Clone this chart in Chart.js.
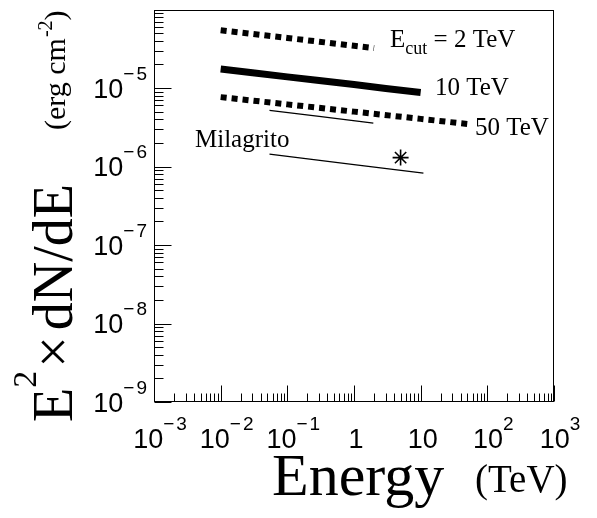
<!DOCTYPE html>
<html><head><meta charset="utf-8">
<script src="https://cdn.jsdelivr.net/npm/chart.js@4"></script>
<style>html,body{margin:0;padding:0;background:#fff;}canvas{display:block;}</style>
</head><body>
<canvas id="c" width="597" height="518" style="width:597px;height:518px"></canvas>
<script>
// ---- data (energy in TeV, E^2 dN/dE in erg cm^-2) ----
const energyEcut2  = [0.01, 0.03, 0.1, 0.3, 1, 2];
const fluxEcut2    = [5.46e-5, 4.90e-5, 4.35e-5, 3.90e-5, 3.46e-5, 3.23e-5];
const energyEcut10 = [0.01, 0.03, 0.1, 0.3, 1, 3, 10];
const fluxEcut10   = [1.75e-5, 1.57e-5, 1.39e-5, 1.25e-5, 1.11e-5, 9.9e-6, 8.8e-6];
const energyEcut50 = [0.01, 0.1, 1, 10, 50];
const fluxEcut50   = [7.67e-6, 6.20e-6, 5.01e-6, 4.05e-6, 3.49e-6];
const energyUpper  = [0.054, 0.3, 1.95];
const fluxUpper    = [5.19e-6, 4.35e-6, 3.57e-6];
const energyMilagrito = [0.054, 1, 11];
const fluxMilagrito   = [1.44e-6, 1.06e-6, 8.24e-7];
const energyStar = [5];
const fluxStar   = [1.3e-6];
const xDecades = [-3, -2, -1, 0, 1, 2, 3];
const yDecades = [-9, -8, -7, -6, -5];
const curveLabels = ['E', '10 TeV', '50 TeV', 'Milagrito'];
const curveLabelE = [3.47, 16.4, 65.3, 0.00412];
const curveLabelF = [3.37e-5, 8.13e-6, 2.56e-6, 1.76e-6];

const pts = (xs, ys) => xs.map((v, i) => ({x: v, y: ys[i]}));

const SANS = '"Liberation Sans", Arial, sans-serif';
const SERIF = '"Liberation Serif", "Times New Roman", serif';

function powParts(d) {
  if (d === 0) return {base: '1', sup: ''};
  if (d === 1) return {base: '10', sup: ''};
  return {base: '10', sup: d < 0 ? String(Math.abs(d)) : String(d), neg: d < 0};
}
function measurePow(ctx, p) {
  ctx.font = '27px ' + SANS;
  const wb = ctx.measureText(p.base).width;
  let ws = 0;
  if (p.sup) {
    ctx.font = '19px ' + SANS;
    ws = ctx.measureText(p.sup).width + (p.neg ? ctx.measureText('\u2212').width + 2 : 0);
  }
  return {wb, ws, w: wb + ws};
}
function drawPow(ctx, p, left, baseline) {
  ctx.font = '27px ' + SANS;
  ctx.fillText(p.base, left, baseline);
  let x = left + ctx.measureText(p.base).width;
  if (p.sup) {
    ctx.font = '19px ' + SANS;
    const sb = baseline - 18;
    if (p.neg) { ctx.fillText('\u2212', x, sb); x += ctx.measureText('\u2212').width + 2; }
    ctx.fillText(p.sup, x, sb);
  }
}

const axesPlugin = {
  id: 'rootAxes',
  afterDraw(chart) {
    const {ctx, chartArea: a, scales: {x, y}} = chart;
    ctx.save();
    ctx.strokeStyle = '#000';
    ctx.fillStyle = '#000';
    ctx.lineWidth = 1;
    const L = Math.round(a.left) + 0.5, R = Math.round(a.right) - 0.5;
    const T = Math.round(a.top) + 0.5, B = Math.round(a.bottom) - 0.5;
    ctx.strokeRect(L, T, R - L, B - T);
    ctx.beginPath();
    // x ticks (inside, bottom)
    for (let d = -3; d <= 3; d++) {
      for (let m = 1; m <= 9; m++) {
        if (d === 3 && m > 1) break;
        const px = Math.round(x.getPixelForValue(m * Math.pow(10, d))) + 0.5;
        const len = m === 1 ? 16 : 8;
        ctx.moveTo(px, B); ctx.lineTo(px, B - len);
      }
    }
    // y ticks (inside, left)
    for (let d = -9; d <= -4; d++) {
      for (let m = 1; m <= 9; m++) {
        if (d === -4 && m > 1) break;
        const py = Math.round(y.getPixelForValue(m * Math.pow(10, d))) + 0.5;
        const len = m === 1 ? 17 : 9;
        ctx.moveTo(L, py); ctx.lineTo(L + len, py);
      }
    }
    ctx.stroke();

    // tick labels
    ctx.textAlign = 'left';
    ctx.textBaseline = 'alphabetic';
    xDecades.forEach(d => {
      const p = powParts(d);
      const m = measurePow(ctx, p);
      const px = x.getPixelForValue(Math.pow(10, d));
      const c = px + (p.sup ? 6 : 2);
      drawPow(ctx, p, c - m.w / 2, B + 46);
    });
    yDecades.forEach(d => {
      const p = powParts(d);
      const m = measurePow(ctx, p);
      const py = y.getPixelForValue(Math.pow(10, d));
      drawPow(ctx, p, a.left - 7 - m.w, py + 9.5);
    });

    // x title
    ctx.font = '60px ' + SERIF;
    ctx.fillText('Energy', 272, 495);
    ctx.font = '39px ' + SERIF;
    ctx.fillText('(TeV)', 475, 492);

    // y title (rotated)
    ctx.save();
    ctx.translate(72, 422);
    ctx.rotate(-Math.PI / 2);
    let cx = 0;
    ctx.font = '56px ' + SERIF;
    ctx.fillText('E', cx, 0); cx += ctx.measureText('E').width;
    ctx.font = '34px ' + SERIF;
    ctx.fillText('2', cx, -36); cx += ctx.measureText('2').width + 3;
    ctx.font = '56px ' + SERIF;
    ctx.fillText('\u00d7', cx, 0); cx += ctx.measureText('\u00d7').width + 6;
    ctx.fillText('dN/dE', cx, 0);
    cx = 292;
    ctx.font = '30px ' + SERIF;
    ctx.fillText('(erg cm', cx, -7); cx += ctx.measureText('(erg cm').width + 1;
    ctx.font = '20px ' + SERIF;
    ctx.fillText('-2', cx, -20); cx += ctx.measureText('-2').width;
    ctx.font = '30px ' + SERIF;
    ctx.fillText(')', cx, -7);
    ctx.restore();

    // curve labels
    curveLabels.forEach((t, i) => {
      const lx = x.getPixelForValue(curveLabelE[i]);
      const ly = y.getPixelForValue(curveLabelF[i]);
      if (t === 'E') {
        ctx.font = '25px ' + SERIF;
        ctx.fillText('E', lx, ly);
        let cx2 = lx + ctx.measureText('E').width;
        ctx.font = '18px ' + SERIF;
        ctx.fillText('cut', cx2, ly + 7.5);
        cx2 += ctx.measureText('cut').width;
        ctx.font = '25px ' + SERIF;
        ctx.fillText(' = 2 TeV', cx2, ly);
      } else {
        ctx.font = '25px ' + SERIF;
        ctx.fillText(t, lx, ly);
      }
    });
    ctx.restore();
  }
};

const lineBase = {showLine: true, pointRadius: 0, borderColor: '#000', backgroundColor: '#000',
  borderCapStyle: 'butt', borderJoinStyle: 'miter', tension: 0, fill: false};

new Chart(document.getElementById('c'), {
  type: 'scatter',
  data: {
    datasets: [
      Object.assign({}, lineBase, {label: 'Ecut = 2 TeV', data: pts(energyEcut2, fluxEcut2), borderWidth: 6, borderDash: [6, 5]}),
      Object.assign({}, lineBase, {label: '10 TeV', data: pts(energyEcut10, fluxEcut10), borderWidth: 7}),
      Object.assign({}, lineBase, {label: '50 TeV', data: pts(energyEcut50, fluxEcut50), borderWidth: 6, borderDash: [6, 5]}),
      Object.assign({}, lineBase, {label: 'upper', data: pts(energyUpper, fluxUpper), borderWidth: 1.3}),
      Object.assign({}, lineBase, {label: 'Milagrito', data: pts(energyMilagrito, fluxMilagrito), borderWidth: 1.3}),
      {label: 'Milagrito point', data: pts(energyStar, fluxStar), showLine: false, pointStyle: 'star',
       pointRadius: 8, borderWidth: 1.6, borderColor: '#000', backgroundColor: '#000'}
    ]
  },
  options: {
    responsive: false,
    animation: false,
    events: [],
    layout: {padding: {left: 154, top: 3, right: 43, bottom: 116}},
    scales: {
      x: {type: 'logarithmic', min: 1e-3, max: 1e3, display: false},
      y: {type: 'logarithmic', min: 1e-9, max: 1e-4, display: false}
    },
    plugins: {legend: {display: false}, tooltip: {enabled: false}}
  },
  plugins: [axesPlugin]
});
</script>
</body></html>
